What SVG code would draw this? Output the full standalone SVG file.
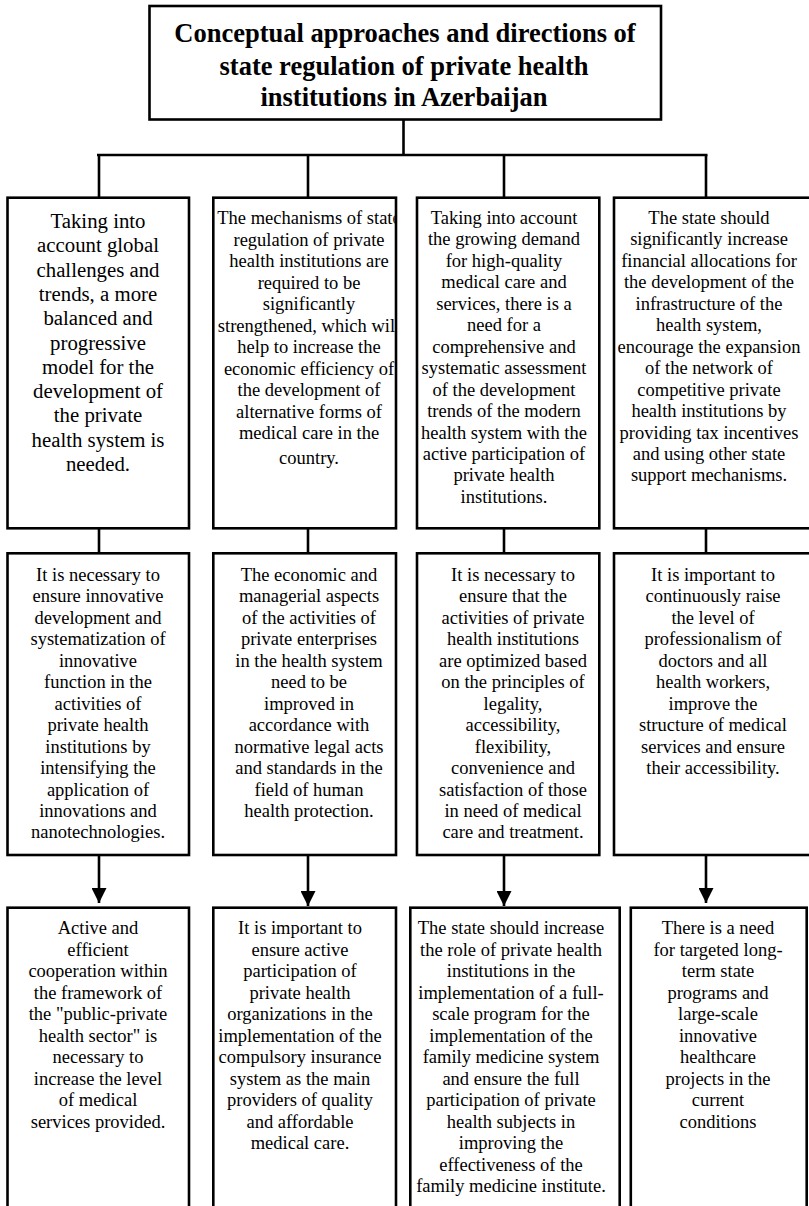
<svg xmlns="http://www.w3.org/2000/svg" width="809" height="1206" viewBox="0 0 809 1206">
<style>
.box{fill:#fff;stroke:#000;stroke-width:2.6}
.ln{fill:none;stroke:#000;stroke-width:2.6}
.t{font-family:"Liberation Serif","Times New Roman",serif;font-size:18.5px;fill:#000;text-anchor:middle}
.big{font-size:20.8px}
.title{font-family:"Liberation Serif","Times New Roman",serif;font-size:26.5px;font-weight:bold;fill:#000;text-anchor:middle}
</style>
<defs>
<marker id="ah" markerWidth="15" markerHeight="15" refX="15" refY="7.5" orient="auto" markerUnits="userSpaceOnUse">
<path d="M0,0 L15,7.5 L0,15 Z" fill="#000"/>
</marker>
<clipPath id="c2"><rect x="214.5" y="199" width="180.2" height="328"/></clipPath>
</defs>
<rect width="809" height="1206" fill="#fff"/>

<g id="connectors">
<line class="ln" x1="403.5" y1="120" x2="403.5" y2="155"/>
<line class="ln" x1="97" y1="155" x2="707.5" y2="155"/>
<line class="ln" x1="99" y1="155" x2="99" y2="198"/>
<line class="ln" x1="308" y1="155" x2="308" y2="198"/>
<line class="ln" x1="504" y1="155" x2="504" y2="198"/>
<line class="ln" x1="706" y1="155" x2="706" y2="198"/>
<line class="ln" x1="99" y1="528" x2="99" y2="553"/>
<line class="ln" x1="308" y1="528" x2="308" y2="553"/>
<line class="ln" x1="504" y1="528" x2="504" y2="553"/>
<line class="ln" x1="706" y1="528" x2="706" y2="553"/>
<line class="ln" x1="99" y1="855" x2="99" y2="903" marker-end="url(#ah)"/>
<line class="ln" x1="308" y1="855" x2="308" y2="906" marker-end="url(#ah)"/>
<line class="ln" x1="504" y1="855" x2="504" y2="906" marker-end="url(#ah)"/>
<line class="ln" x1="706" y1="855" x2="706" y2="903" marker-end="url(#ah)"/>
</g>

<g id="title">
<rect class="box" x="149.5" y="6" width="511.5" height="113.5"/>
<text class="title"><tspan x="405" y="42">Conceptual approaches and directions of</tspan><tspan x="404" y="74.5">state regulation of private health</tspan><tspan x="404" y="106">institutions in Azerbaijan</tspan></text>
</g>

<g id="r1c1">
<rect class="box" x="7.5" y="197.7" width="181.5" height="330.6"/>
<text class="t big"><tspan x="98" y="228">Taking into</tspan><tspan x="98" dy="24.3">account global</tspan><tspan x="98" dy="24.3">challenges and</tspan><tspan x="98" dy="24.3">trends, a more</tspan><tspan x="98" dy="24.3">balanced and</tspan><tspan x="98" dy="24.3">progressive</tspan><tspan x="98" dy="24.3">model for the</tspan><tspan x="98" dy="24.3">development of</tspan><tspan x="98" dy="24.3">the private</tspan><tspan x="98" dy="24.3">health system is</tspan><tspan x="98" dy="24.3">needed.</tspan></text>
</g>

<g id="r1c2">
<rect class="box" x="213.3" y="197.7" width="182.7" height="330.6"/>
<text class="t" clip-path="url(#c2)"><tspan x="309" y="224">The mechanisms of state</tspan><tspan x="309" dy="21.5">regulation of private</tspan><tspan x="309" dy="21.5">health institutions are</tspan><tspan x="309" dy="21.5">required to be</tspan><tspan x="309" dy="21.5">significantly</tspan><tspan x="309" dy="21.5">strengthened, which will</tspan><tspan x="309" dy="21.5">help to increase the</tspan><tspan x="309" dy="21.5">economic efficiency of</tspan><tspan x="309" dy="21.5">the development of</tspan><tspan x="309" dy="21.5">alternative forms of</tspan><tspan x="309" dy="21.5">medical care in the</tspan><tspan x="309" dy="25">country.</tspan></text>
</g>

<g id="r1c3">
<rect class="box" x="417" y="197.7" width="182.3" height="330.6"/>
<text class="t"><tspan x="504" y="224">Taking into account</tspan><tspan x="504" dy="21.45">the growing demand</tspan><tspan x="504" dy="21.45">for high-quality</tspan><tspan x="504" dy="21.45">medical care and</tspan><tspan x="504" dy="21.45">services, there is a</tspan><tspan x="504" dy="21.45">need for a</tspan><tspan x="504" dy="21.45">comprehensive and</tspan><tspan x="504" dy="21.45">systematic assessment</tspan><tspan x="504" dy="21.45">of the development</tspan><tspan x="504" dy="21.45">trends of the modern</tspan><tspan x="504" dy="21.45">health system with the</tspan><tspan x="504" dy="21.45">active participation of</tspan><tspan x="504" dy="21.45">private health</tspan><tspan x="504" dy="21.45">institutions.</tspan></text>
</g>

<g id="r1c4">
<rect class="box" x="614" y="197.7" width="200" height="330.6"/>
<text class="t"><tspan x="709" y="224">The state should</tspan><tspan x="709" dy="21.45">significantly increase</tspan><tspan x="709" dy="21.45">financial allocations for</tspan><tspan x="709" dy="21.45">the development of the</tspan><tspan x="709" dy="21.45">infrastructure of the</tspan><tspan x="709" dy="21.45">health system,</tspan><tspan x="709" dy="21.45">encourage the expansion</tspan><tspan x="709" dy="21.45">of the network of</tspan><tspan x="709" dy="21.45">competitive private</tspan><tspan x="709" dy="21.45">health institutions by</tspan><tspan x="709" dy="21.45">providing tax incentives</tspan><tspan x="709" dy="21.45">and using other state</tspan><tspan x="709" dy="21.45">support mechanisms.</tspan></text>
</g>

<g id="r2c1">
<rect class="box" x="7.5" y="553.3" width="181.5" height="301.7"/>
<text class="t"><tspan x="98" y="581">It is necessary to</tspan><tspan x="98" dy="21.45">ensure innovative</tspan><tspan x="98" dy="21.45">development and</tspan><tspan x="98" dy="21.45">systematization of</tspan><tspan x="98" dy="21.45">innovative</tspan><tspan x="98" dy="21.45">function in the</tspan><tspan x="98" dy="21.45">activities of</tspan><tspan x="98" dy="21.45">private health</tspan><tspan x="98" dy="21.45">institutions by</tspan><tspan x="98" dy="21.45">intensifying the</tspan><tspan x="98" dy="21.45">application of</tspan><tspan x="98" dy="21.45">innovations and</tspan><tspan x="98" dy="21.45">nanotechnologies.</tspan></text>
</g>

<g id="r2c2">
<rect class="box" x="213.3" y="553.3" width="182.7" height="301.7"/>
<text class="t"><tspan x="309" y="581">The economic and</tspan><tspan x="309" dy="21.45">managerial aspects</tspan><tspan x="309" dy="21.45">of the activities of</tspan><tspan x="309" dy="21.45">private enterprises</tspan><tspan x="309" dy="21.45">in the health system</tspan><tspan x="309" dy="21.45">need to be</tspan><tspan x="309" dy="21.45">improved in</tspan><tspan x="309" dy="21.45">accordance with</tspan><tspan x="309" dy="21.45">normative legal acts</tspan><tspan x="309" dy="21.45">and standards in the</tspan><tspan x="309" dy="21.45">field of human</tspan><tspan x="309" dy="21.45">health protection.</tspan></text>
</g>

<g id="r2c3">
<rect class="box" x="417" y="553.3" width="182.3" height="301.7"/>
<text class="t"><tspan x="513" y="581">It is necessary to</tspan><tspan x="513" dy="21.45">ensure that the</tspan><tspan x="513" dy="21.45">activities of private</tspan><tspan x="513" dy="21.45">health institutions</tspan><tspan x="513" dy="21.45">are optimized based</tspan><tspan x="513" dy="21.45">on the principles of</tspan><tspan x="513" dy="21.45">legality,</tspan><tspan x="513" dy="21.45">accessibility,</tspan><tspan x="513" dy="21.45">flexibility,</tspan><tspan x="513" dy="21.45">convenience and</tspan><tspan x="513" dy="21.45">satisfaction of those</tspan><tspan x="513" dy="21.45">in need of medical</tspan><tspan x="513" dy="21.45">care and treatment.</tspan></text>
</g>

<g id="r2c4">
<rect class="box" x="614" y="553.3" width="200" height="301.7"/>
<text class="t"><tspan x="713" y="581">It is important to</tspan><tspan x="713" dy="21.45">continuously raise</tspan><tspan x="713" dy="21.45">the level of</tspan><tspan x="713" dy="21.45">professionalism of</tspan><tspan x="713" dy="21.45">doctors and all</tspan><tspan x="713" dy="21.45">health workers,</tspan><tspan x="713" dy="21.45">improve the</tspan><tspan x="713" dy="21.45">structure of medical</tspan><tspan x="713" dy="21.45">services and ensure</tspan><tspan x="713" dy="21.45">their accessibility.</tspan></text>
</g>

<g id="r3c1">
<rect class="box" x="7.5" y="907.7" width="181.5" height="310"/>
<text class="t"><tspan x="98" y="934">Active and</tspan><tspan x="98" dy="21.5">efficient</tspan><tspan x="98" dy="21.5">cooperation within</tspan><tspan x="98" dy="21.5">the framework of</tspan><tspan x="98" dy="21.5">the "public-private</tspan><tspan x="98" dy="21.5">health sector" is</tspan><tspan x="98" dy="21.5">necessary to</tspan><tspan x="98" dy="21.5">increase the level</tspan><tspan x="98" dy="21.5">of medical</tspan><tspan x="98" dy="21.5">services provided.</tspan></text>
</g>

<g id="r3c2">
<rect class="box" x="213.3" y="907.7" width="182.7" height="310"/>
<text class="t"><tspan x="300" y="934">It is important to</tspan><tspan x="300" dy="21.5">ensure active</tspan><tspan x="300" dy="21.5">participation of</tspan><tspan x="300" dy="21.5">private health</tspan><tspan x="300" dy="21.5">organizations in the</tspan><tspan x="300" dy="21.5">implementation of the</tspan><tspan x="300" dy="21.5">compulsory insurance</tspan><tspan x="300" dy="21.5">system as the main</tspan><tspan x="300" dy="21.5">providers of quality</tspan><tspan x="300" dy="21.5">and affordable</tspan><tspan x="300" dy="21.5">medical care.</tspan></text>
</g>

<g id="r3c3">
<rect class="box" x="410.3" y="907.7" width="209.4" height="310"/>
<text class="t"><tspan x="511" y="934">The state should increase</tspan><tspan x="511" dy="21.5">the role of private health</tspan><tspan x="511" dy="21.5">institutions in the</tspan><tspan x="511" dy="21.5">implementation of a full-</tspan><tspan x="511" dy="21.5">scale program for the</tspan><tspan x="511" dy="21.5">implementation of the</tspan><tspan x="511" dy="21.5">family medicine system</tspan><tspan x="511" dy="21.5">and ensure the full</tspan><tspan x="511" dy="21.5">participation of private</tspan><tspan x="511" dy="21.5">health subjects in</tspan><tspan x="511" dy="21.5">improving the</tspan><tspan x="511" dy="21.5">effectiveness of the</tspan><tspan x="511" dy="21.5">family medicine institute.</tspan></text>
</g>

<g id="r3c4">
<rect class="box" x="630.8" y="907.7" width="175.9" height="310"/>
<text class="t"><tspan x="718" y="934">There is a need</tspan><tspan x="718" dy="21.5">for targeted long-</tspan><tspan x="718" dy="21.5">term state</tspan><tspan x="718" dy="21.5">programs and</tspan><tspan x="718" dy="21.5">large-scale</tspan><tspan x="718" dy="21.5">innovative</tspan><tspan x="718" dy="21.5">healthcare</tspan><tspan x="718" dy="21.5">projects in the</tspan><tspan x="718" dy="21.5">current</tspan><tspan x="718" dy="21.5">conditions</tspan></text>
</g>
</svg>
